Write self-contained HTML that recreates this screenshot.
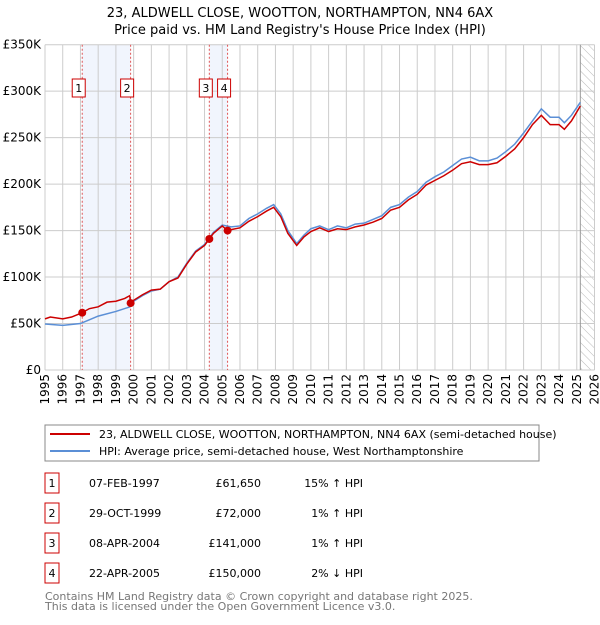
<!DOCTYPE html>
<html><head><meta charset="utf-8"><style>
body{margin:0;background:#fff;font-family:"Liberation Sans","DejaVu Sans",sans-serif;}
svg text{font-family:"DejaVu Sans","Liberation Sans",sans-serif;}
</style></head><body>
<svg id="chart" width="600" height="620" viewBox="0 0 600 620" xmlns="http://www.w3.org/2000/svg">
<defs><pattern id="hatch" width="6" height="6" patternUnits="userSpaceOnUse" patternTransform="rotate(-45)"><line x1="0" y1="0" x2="0" y2="6" stroke="#bbb" stroke-width="1"/></pattern></defs>
<text x="300" y="17" text-anchor="middle" font-size="13">23, ALDWELL CLOSE, WOOTTON, NORTHAMPTON, NN4 6AX</text>
<text x="300" y="34" text-anchor="middle" font-size="13">Price paid vs. HM Land Registry's House Price Index (HPI)</text>
<g id="plot"></g>
<rect x="45" y="425" width="494" height="36" fill="#fff" stroke="#888"/>
<line x1="50" y1="434" x2="90" y2="434" stroke="#cc0000" stroke-width="2"/>
<text x="99" y="438" font-size="11">23, ALDWELL CLOSE, WOOTTON, NORTHAMPTON, NN4 6AX (semi-detached house)</text>
<line x1="50" y1="451" x2="90" y2="451" stroke="#5b8fd6" stroke-width="2"/>
<text x="99" y="455" font-size="11">HPI: Average price, semi-detached house, West Northamptonshire</text>
<g id="table" font-size="11"></g>
<text x="45" y="600" font-size="11" fill="#777">Contains HM Land Registry data © Crown copyright and database right 2025.</text>
<text x="45" y="610" font-size="11" fill="#777">This data is licensed under the Open Government Licence v3.0.</text>
</svg>
<script>
const hpiYears=[1995,1996,1997,1997.5,1998,1999,1999.8,2000,2000.5,2001,2001.5,2002,2002.5,2003,2003.5,2004,2004.5,2005,2005.5,2006,2006.5,2007,2007.5,2007.9,2008.3,2008.7,2009.2,2009.6,2010,2010.5,2011,2011.5,2012,2012.5,2013,2013.5,2014,2014.5,2015,2015.5,2016,2016.5,2017,2017.5,2018,2018.5,2019,2019.5,2020,2020.5,2021,2021.5,2022,2022.5,2023,2023.5,2024,2024.3,2024.7,2025.2];
const hpiValues=[49.5,48,50,54,58,63,68,74,80,85,87,95,100,115,128,135,148,156,154,155,163,168,174,178,168,150,136,145,152,155,151,155,153,157,158,162,166,175,178,186,192,202,208,213,220,227,229,225,225,228,235,243,255,268,281,272,272,266,274,288];
const redYears=[1995,1995.3,1996,1996.5,1997.1,1997.5,1998,1998.5,1999,1999.5,1999.78,1999.83,2000,2000.5,2001,2001.5,2002,2002.5,2003,2003.5,2004,2004.27,2004.5,2005,2005.3,2005.5,2006,2006.5,2007,2007.5,2007.9,2008.3,2008.7,2009.2,2009.6,2010,2010.5,2011,2011.5,2012,2012.5,2013,2013.5,2014,2014.5,2015,2015.5,2016,2016.5,2017,2017.5,2018,2018.5,2019,2019.5,2020,2020.5,2021,2021.5,2022,2022.5,2023,2023.5,2024,2024.3,2024.7,2025.2];
const redValues=[55,57,55,57,61.65,66,68,73,74,77,80,72,75,81,86,87,95,99,114,127,134,141,147,155,150,151,153,160,165,171,175,165,147,134,143,149,153,149,152,151,154,156,159,163,172,175,183,189,199,204,209,215,222,224,221,221,223,230,238,250,264,274,264,264,259,268,284];
const saleYears=[1997.1,1999.83,2004.27,2005.3];
const saleValues=[61.65,72,141,150];
const saleLabels=["1","2","3","4"];
const saleDates=["07-FEB-1997","29-OCT-1999","08-APR-2004","22-APR-2005"];
const salePrices=["£61,650","£72,000","£141,000","£150,000"];
const saleDiffs=["15% ↑ HPI","1% ↑ HPI","1% ↑ HPI","2% ↓ HPI"];
const yTicks=[0,50,100,150,200,250,300,350];
const yTickLabels=["£0","£50K","£100K","£150K","£200K","£250K","£300K","£350K"];
const xTicks=[];for(let y=1995;y<=2026;y++)xTicks.push(y);

const L=45,R=594.5,T=44.7,B=370;
const X=y=>L+(y-1995)/31*(R-L);
const Y=v=>B-v/350*(B-T);
const NS="http://www.w3.org/2000/svg";
const plot=document.getElementById('plot');
function mk(tag,attrs,parent){const e=document.createElementNS(NS,tag);for(const k in attrs)e.setAttribute(k,attrs[k]);(parent||plot).appendChild(e);return e;}
for(let i=0;i<saleYears.length;i+=2){const r=mk('rect',{x:X(saleYears[i]),y:T,width:X(saleYears[i+1])-X(saleYears[i]),height:B-T,fill:'#f1f5fd'});

}
const h=mk('rect',{x:X(2025.2),y:T,width:R-X(2025.2),height:B-T,fill:'url(#hatch)'});


xTicks.forEach(t=>{const g=mk('line',{x1:X(t),x2:X(t),y1:T,y2:B,stroke:'#ccc','stroke-width':1});


const tx=mk('text',{x:0,y:0,'font-size':12,'text-anchor':'end',transform:`translate(${X(t)+4},${B+4}) rotate(-90)`});tx.textContent=t;

});
yTicks.forEach((t,i)=>{const g=mk('line',{x1:L,x2:R,y1:Y(t),y2:Y(t),stroke:'#ccc','stroke-width':1});


const tx=mk('text',{x:L-4,y:Y(t)+4,'font-size':12,'text-anchor':'end'});tx.textContent=yTickLabels[i];

});
const nl=mk('line',{x1:X(2025.2),x2:X(2025.2),y1:T,y2:B,stroke:'#999','stroke-width':1});


saleYears.forEach(s=>{const l=mk('line',{x1:X(s),x2:X(s),y1:T,y2:B,stroke:'#e05555','stroke-width':1,'stroke-dasharray':'2,2'});

});
const hp=mk('polyline',{points:hpiYears.map((y,i)=>X(y)+','+Y(hpiValues[i])).join(' '),fill:'none',stroke:'#5b8fd6','stroke-width':1.5});


const rp=mk('polyline',{points:redYears.map((y,i)=>X(y)+','+Y(redValues[i])).join(' '),fill:'none',stroke:'#cc0000','stroke-width':1.5});


saleYears.forEach((s,i)=>{const c=mk('circle',{cx:X(s),cy:Y(saleValues[i]),r:4,fill:'#cc0000'});


const rx=X(s)-10;
const r=mk('rect',{x:rx,y:79,width:13,height:18,fill:'#fff',stroke:'#cc0000'});


const t=mk('text',{x:rx+6.5,y:92,'font-size':11,'text-anchor':'middle'});t.textContent=saleLabels[i];

});
const tb=document.getElementById('table');
saleLabels.forEach((lb,i)=>{const cy=483+i*30;
const r=mk('rect',{x:45,y:cy-10,width:14,height:20,fill:'#fff',stroke:'#cc0000'},tb);


const cells=[[52,lb,'middle','table-index'],[89,saleDates[i],'start','table-date'],[261,salePrices[i],'end','table-price'],[363,saleDiffs[i],'end','table-hpi-diff']];
cells.forEach(c=>{const t=mk('text',{x:c[0],y:cy+4,'text-anchor':c[2]},tb);t.textContent=c[1];

});});
</script>
</body></html>
